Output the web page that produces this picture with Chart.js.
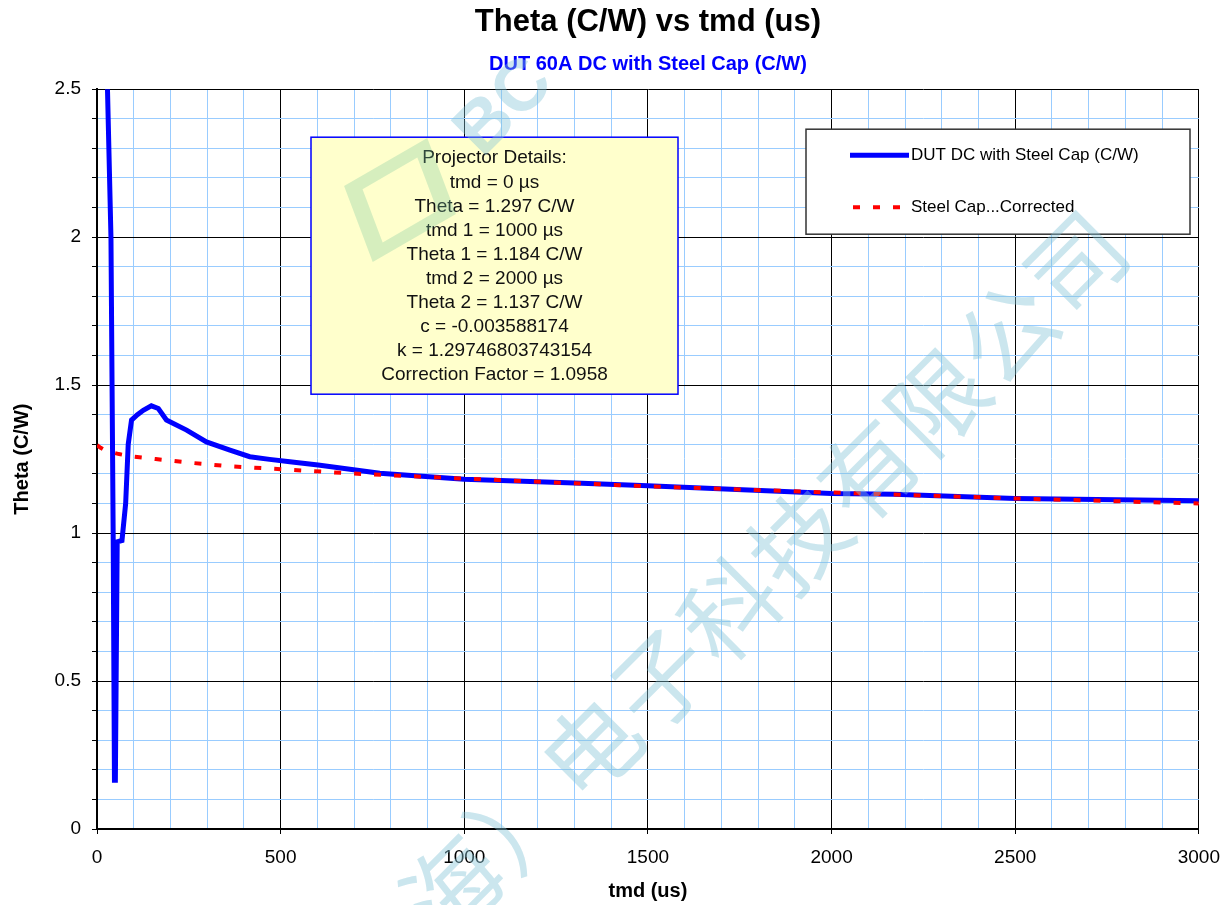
<!DOCTYPE html>
<html>
<head>
<meta charset="utf-8">
<script src="https://cdn.jsdelivr.net/npm/chart.js@4.4.1/dist/chart.umd.min.js"></script>
<style>
  html, body { margin: 0; padding: 0; background: #fff; }
</style>
</head>
<body>
<canvas id="thetaChart" width="1232" height="905"></canvas>
<script>
// measured curve: DUT 60A DC with steel cap
const dutTmd = [20, 38, 41, 44, 47.5, 50, 55, 68, 78, 85, 94, 110, 126, 148, 167, 189, 244, 298, 362, 416, 470, 525, 602, 770, 1000, 1320, 1500, 2000, 2170, 2500, 3000];
const dutTheta = [2.95, 2.0, 1.5, 1.0, 0.165, 0.165, 0.97, 0.975, 1.1, 1.3, 1.382, 1.40, 1.415, 1.43, 1.421, 1.382, 1.348, 1.308, 1.28, 1.258, 1.249, 1.241, 1.23, 1.202, 1.182, 1.168, 1.16, 1.134, 1.131, 1.117, 1.109];

// corrected steel cap curve
const fitTmd = [0, 10, 20, 35, 60, 100, 160, 260, 360, 500, 700, 1000, 1500, 2000, 2500, 3000];
const fitTheta = [1.297, 1.288, 1.281, 1.275, 1.267, 1.258, 1.25, 1.237, 1.226, 1.216, 1.201, 1.184, 1.158, 1.137, 1.117, 1.100];

const seriesNames = ["DUT DC with Steel Cap (C/W)", "Steel Cap...Corrected"];

const projectorLines = [
  "Projector Details:",
  "tmd = 0 µs",
  "Theta = 1.297 C/W",
  "tmd 1 = 1000 µs",
  "Theta 1 = 1.184 C/W",
  "tmd 2 = 2000 µs",
  "Theta 2 = 1.137 C/W",
  "c = -0.003588174",
  "k = 1.29746803743154",
  "Correction Factor = 1.0958"
];

const watermarkChars = ["上", "海", "）", "电", "子", "科", "技", "有", "限", "公", "司"];

const FONT = '"Liberation Sans", Arial, sans-serif';

function toPoints(xs, ys) {
  return xs.map((x, i) => ({ x: x, y: ys[i] }));
}

function isMajorX(v) { return Math.abs(v % 500) < 1e-6; }
function isMajorY(v) { return Math.abs(v * 2 - Math.round(v * 2)) < 1e-6; }

// info box + legend box inside the plot area
const boxesPlugin = {
  id: "boxes",
  afterDatasetsDraw(chart) {
    const ctx = chart.ctx;
    const ca = chart.chartArea;
    ctx.save();

    // projector details
    const bx = ca.left + 214, by = ca.top + 48, bw = 367, bh = 257;
    ctx.fillStyle = "#ffffcc";
    ctx.fillRect(bx, by, bw, bh);
    ctx.strokeStyle = "#0000ff";
    ctx.lineWidth = 1.5;
    ctx.strokeRect(bx, by, bw, bh);
    ctx.fillStyle = "#111";
    ctx.font = "19px " + FONT;
    ctx.textAlign = "center";
    ctx.textBaseline = "middle";
    projectorLines.forEach((t, i) => {
      ctx.fillText(t, bx + bw / 2, by + 21 + i * 24.1);
    });

    // legend
    const lx = ca.left + 709, ly = ca.top + 40, lw = 384, lh = 105;
    ctx.fillStyle = "#fff";
    ctx.fillRect(lx, ly, lw, lh);
    ctx.strokeStyle = "#333";
    ctx.lineWidth = 1.5;
    ctx.strokeRect(lx, ly, lw, lh);
    chart.data.datasets.forEach((ds, i) => {
      const yy = ly + 26 + i * 52;
      ctx.strokeStyle = ds.borderColor;
      ctx.lineWidth = ds.borderWidth;
      ctx.lineCap = "butt";
      ctx.setLineDash(ds.borderDash || []);
      ctx.beginPath();
      ctx.moveTo(lx + 44 + (ds.borderDash ? 3 : 0), yy);
      ctx.lineTo(lx + 103, yy);
      ctx.stroke();
      ctx.setLineDash([]);
      ctx.fillStyle = "#000";
      ctx.font = "17px " + FONT;
      ctx.textAlign = "left";
      ctx.fillText(ds.label, lx + 105, yy);
    });
    ctx.restore();
  }
};

// faint company watermark over the whole canvas
const watermarkPlugin = {
  id: "watermark",
  afterDraw(chart) {
    const ctx = chart.ctx;
    ctx.save();
    ctx.fillStyle = "rgba(130,195,215,0.42)";
    ctx.font = '96px "Noto Sans CJK SC"';
    ctx.textAlign = "center";
    ctx.textBaseline = "middle";
    ctx.translate(591, 748);
    ctx.rotate(-Math.PI / 4);
    watermarkChars.forEach((c, i) => ctx.fillText(c, (i - 3) * 98, 0));
    ctx.restore();

    // logo
    ctx.save();
    ctx.translate(400, 200);
    ctx.transform(1, 0, -0.35, 1, 0, 0);
    ctx.rotate(-Math.PI / 5);
    ctx.strokeStyle = "rgba(120,200,160,0.3)";
    ctx.lineWidth = 14;
    ctx.strokeRect(-34, -40, 68, 80);
    ctx.restore();
    ctx.save();
    ctx.translate(505, 108);
    ctx.rotate(-Math.PI / 4);
    ctx.fillStyle = "rgba(130,195,215,0.4)";
    ctx.font = "bold 72px " + FONT;
    ctx.textAlign = "center";
    ctx.textBaseline = "middle";
    ctx.fillText("BC", 0, 0);
    ctx.restore();
  }
};

new Chart(document.getElementById("thetaChart"), {
  type: "scatter",
  data: {
    datasets: [
      {
        label: seriesNames[0],
        data: toPoints(dutTmd, dutTheta),
        showLine: true,
        borderColor: "#0000ff",
        borderWidth: 5,
        pointRadius: 0,
        tension: 0,
        clip: 0,
        order: 1
      },
      {
        label: seriesNames[1],
        data: toPoints(fitTmd, fitTheta),
        showLine: true,
        borderColor: "#ff0000",
        borderWidth: 4,
        borderDash: [7, 13],
        pointRadius: 0,
        tension: 0,
        clip: 0,
        order: 0
      }
    ]
  },
  options: {
    responsive: false,
    animation: false,
    layout: { padding: { left: 0, right: 32, top: 0, bottom: 0 } },
    plugins: {
      legend: { display: false },
      tooltip: { enabled: false },
      title: {
        display: true,
        text: "Theta (C/W) vs tmd (us)",
        color: "#000",
        fullSize: false,
        font: { family: FONT, size: 31, weight: "bold" },
        padding: { top: 4, bottom: 5 }
      },
      subtitle: {
        display: true,
        text: "DUT 60A DC with Steel Cap (C/W)",
        color: "#0000ff",
        fullSize: false,
        font: { family: FONT, size: 20, weight: "bold" },
        padding: { top: 6, bottom: 13 }
      }
    },
    scales: {
      x: {
        type: "linear",
        min: 0,
        max: 3000,
        afterFit: s => { s.height = 76; },
        ticks: {
          stepSize: 100,
          autoSkip: false,
          maxRotation: 0,
          padding: 12,
          color: "#000",
          font: { family: FONT, size: 19 },
          callback: v => isMajorX(v) ? String(v) : ""
        },
        grid: {
          color: c => (c.tick && isMajorX(c.tick.value)) ? "#000" : "#99ccff",
          lineWidth: 1,
          tickLength: 5,
          tickColor: c => (c.tick && isMajorX(c.tick.value)) ? "#000" : "rgba(0,0,0,0)"
        },
        border: { color: "#000", width: 2 },
        title: {
          display: true,
          text: "tmd (us)",
          color: "#000",
          font: { family: FONT, size: 20, weight: "bold" },
          padding: { top: 0, bottom: 2 }
        }
      },
      y: {
        type: "linear",
        min: 0,
        max: 2.5,
        afterFit: s => { s.width = 97; },
        ticks: {
          stepSize: 0.1,
          autoSkip: false,
          padding: 11,
          color: "#000",
          font: { family: FONT, size: 19 },
          callback: v => isMajorY(v) ? String(Math.round(v * 10) / 10) : ""
        },
        grid: {
          color: c => (c.tick && isMajorY(c.tick.value)) ? "#000" : "#99ccff",
          lineWidth: 1,
          tickLength: 5,
          tickColor: "#000"
        },
        border: { color: "#000", width: 2 },
        title: {
          display: true,
          text: "Theta (C/W)",
          color: "#000",
          font: { family: FONT, size: 20, weight: "bold" },
          padding: { top: 10, bottom: 0 }
        }
      }
    }
  },
  plugins: [boxesPlugin, watermarkPlugin]
});
</script>
</body>
</html>
